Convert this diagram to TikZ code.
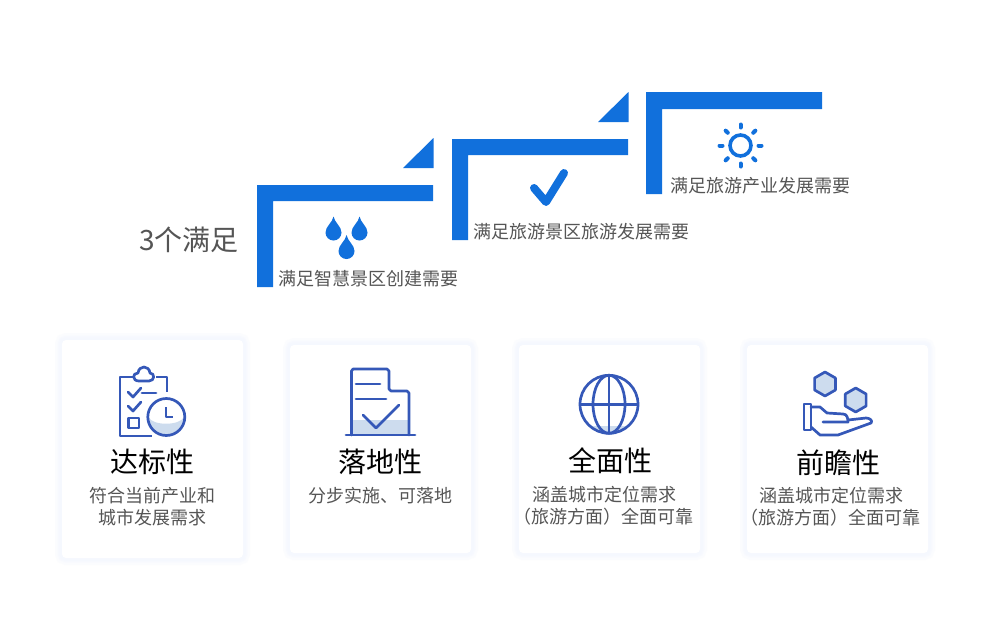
\documentclass[tikz,border=0pt]{standalone}
\usepackage{fontspec}
\setmainfont{Noto Sans CJK SC}
\definecolor{stairblue}{RGB}{17, 112, 220}
\definecolor{iconblue}{RGB}{53, 88, 184}
\definecolor{palefill}{RGB}{205, 220, 238}
\definecolor{glowblue}{RGB}{245, 248, 254}
\definecolor{bodygray}{RGB}{85, 85, 85}
\usetikzlibrary{calc}
\tikzset{
    stairbar/.style={fill=stairblue, draw=none},
    card/.style={rectangle, rounded corners=4pt, fill=white, minimum width=181pt, minimum height=#1, inner sep=0pt,
        preaction={draw=glowblue, line width=14pt, opacity=0.3},
        preaction={draw=glowblue, line width=9pt, opacity=0.5},
        preaction={draw=glowblue, line width=5pt, opacity=0.8}},
    cardtitle/.style={inner sep=0pt, text=black, font=\fontsize{28}{32}\selectfont},
    cardtext/.style={inner sep=0pt, text=bodygray, align=left, font=\fontsize{18}{22}\selectfont},
    steplabel/.style={inner sep=0pt, text=bodygray, font=\fontsize{18}{22}\selectfont},
    iconline/.style={draw=iconblue, line width=2.7pt, line cap=round, line join=round},
    pics/waterdrop/.style={code={
        \fill[stairblue] (0,0) .. controls (-1,6) and (-8,10) .. (-8,16) .. controls (-8,20.5) and (-4.5,24) .. (0,24)
            .. controls (4.5,24) and (8,20.5) .. (8,16) .. controls (8,10) and (1,6) .. (0,0) -- cycle;
    }},
    pics/hexcell/.style={code={
        \draw[iconline, fill=palefill] (0,-12) -- (10.4,-6) -- (10.4,6) -- (0,12) -- (-10.4,6) -- (-10.4,-6) -- cycle;
    }}
}
\begin{document}
\begin{tikzpicture}[x=1pt, y=-1pt]
    \useasboundingbox (0,0) rectangle (990,629);
    \fill[white] (0,0) rectangle (990,629);

    % Stairs
    \fill[stairbar] (257,185) -- (433,185) -- (433,201) -- (273,201) -- (273,287) -- (257,287) -- cycle;
    \fill[stairbar] (452,139) -- (628,139) -- (628,155) -- (468,155) -- (468,240) -- (452,240) -- cycle;
    \fill[stairbar] (646,92) -- (822,92) -- (822,109) -- (662,109) -- (662,194) -- (646,194) -- cycle;
    \fill[stairbar] (433.5,138) -- (433.5,168) -- (403,168) -- cycle;
    \fill[stairbar] (628.5,92) -- (628.5,122) -- (598,122) -- cycle;

    % Stair labels
    \node[inner sep=0pt, text=bodygray, font=\fontsize{28}{32}\selectfont] (head) at (188.8,239.5) {3个满足};
    \node[steplabel] (need1) at (368.5,278.5) {满足智慧景区创建需要};
    \node[steplabel] (need2) at (581.5,231.5) {满足旅游景区旅游发展需要};
    \node[steplabel] (need3) at (760.5,185.5) {满足旅游产业发展需要};

    % Stair icons
    \pic at (333.5,216.5) {waterdrop};
    \pic at (359.5,216.5) {waterdrop};
    \pic at (346.5,235) {waterdrop};
    \draw[stairblue, line width=8pt, line cap=round, line join=round] (534,188) -- (546,202) -- (564,173);
    \draw[stairblue, line width=3.6pt] (740.5,145.5) circle (10.5);
    \foreach \a in {0,45,...,315} {
        \draw[stairblue, line width=4pt, line cap=round] ($(740.5,145.5)+(\a:18)$) -- ($(740.5,145.5)+(\a:21)$);
    }

    % Cards
    \node[card=218pt] (card1) at (152.5,449) {};
    \node[card=208pt] (card2) at (380.5,449) {};
    \node[card=208pt] (card3) at (609.5,449) {};
    \node[card=208pt] (card4) at (837.5,449) {};

    % Card titles
    \node[cardtitle] (title1) at (152,461.5) {达标性};
    \node[cardtitle] (title2) at (380,461.5) {落地性};
    \node[cardtitle] (title3) at (610,460.5) {全面性};
    \node[cardtitle] (title4) at (838,462.5) {前瞻性};

    % Card texts
    \node[cardtext, align=center] (text1) at (152.5,506.5) {符合当前产业和\\城市发展需求};
    \node[cardtext] (text2) at (380.5,495.5) {分步实施、可落地};
    \node[cardtext, anchor=west] (text3) at (513,505.5) {\hspace*{19pt}涵盖城市定位需求\\（旅游方面）全面可靠};
    \node[cardtext, anchor=west] (text4) at (740.5,507) {\hspace*{19pt}涵盖城市定位需求\\（旅游方面）全面可靠};

    % Clipboard icon
    \fill[palefill] (148.5,417) .. controls (152,426) and (180,426) .. (184,417) .. controls (184,440) and (148,440) .. (148.5,417) -- cycle;
    \draw[iconline, line cap=butt] (133,377) -- (120,377) -- (120,436) -- (152,436);
    \draw[iconline, line cap=butt] (156,377) -- (167,377) -- (167,392);
    \draw[iconline] (139,381) .. controls (132,381) and (132,373) .. (138,373) .. controls (139,365) and (149,365) .. (150,373)
        .. controls (155,373) and (155,381) .. (149,381) -- cycle;
    \draw[iconline] (128,392) -- (133,397) -- (141,388);
    \draw[iconline] (142,393) -- (156,393);
    \draw[iconline] (128,406) -- (133,411) -- (141,402);
    \draw[iconline, line cap=butt] (128.5,418) rectangle (139,428);
    \draw[iconline] (166.3,417) circle (18.5);
    \draw[iconline, line cap=butt] (166,407) -- (166,417) -- (173,417);

    % Document icon
    \fill[palefill] (352,420) rectangle (409,435);
    \draw[iconline] (351.5,435) -- (351.5,371) -- (353,369) -- (387,369) -- (389,371) -- (389,389) -- (391,391) -- (407,391) -- (409,393) -- (409,435);
    \draw[iconline] (346,435) -- (415,435);
    \draw[iconline] (356,384) -- (380,384);
    \draw[iconline] (356,399) -- (386,399);
    \draw[iconline] (363,415) -- (376,428) -- (399,405);

    % Globe icon
    \begin{scope}
        \clip (609,404.3) circle (29);
        \fill[palefill] (590,426) rectangle (628,434);
    \end{scope}
    \draw[iconline] (609,404.3) circle (29);
    \draw[iconline] (609,404.3) ellipse (16 and 29);
    \draw[iconline, line cap=butt] (609,375.3) -- (609,433.3);
    \draw[iconline, line cap=butt] (580,404.3) -- (638,404.3);

    % Hand icon
    \pic at (825,384) {hexcell};
    \pic at (855.7,400) {hexcell};
    \draw[iconline, line cap=butt] (804,404) rectangle (811,430);
    \draw[iconline] (811,407) -- (820,407) -- (827,413) -- (843,414) .. controls (847,414) and (848,418) .. (848,422) -- (823,422);
    \draw[iconline] (848,420) -- (866,418) .. controls (870,418) and (873,421) .. (871,423) -- (838,435) -- (820,435) -- (811,427);
\end{tikzpicture}
\end{document}
